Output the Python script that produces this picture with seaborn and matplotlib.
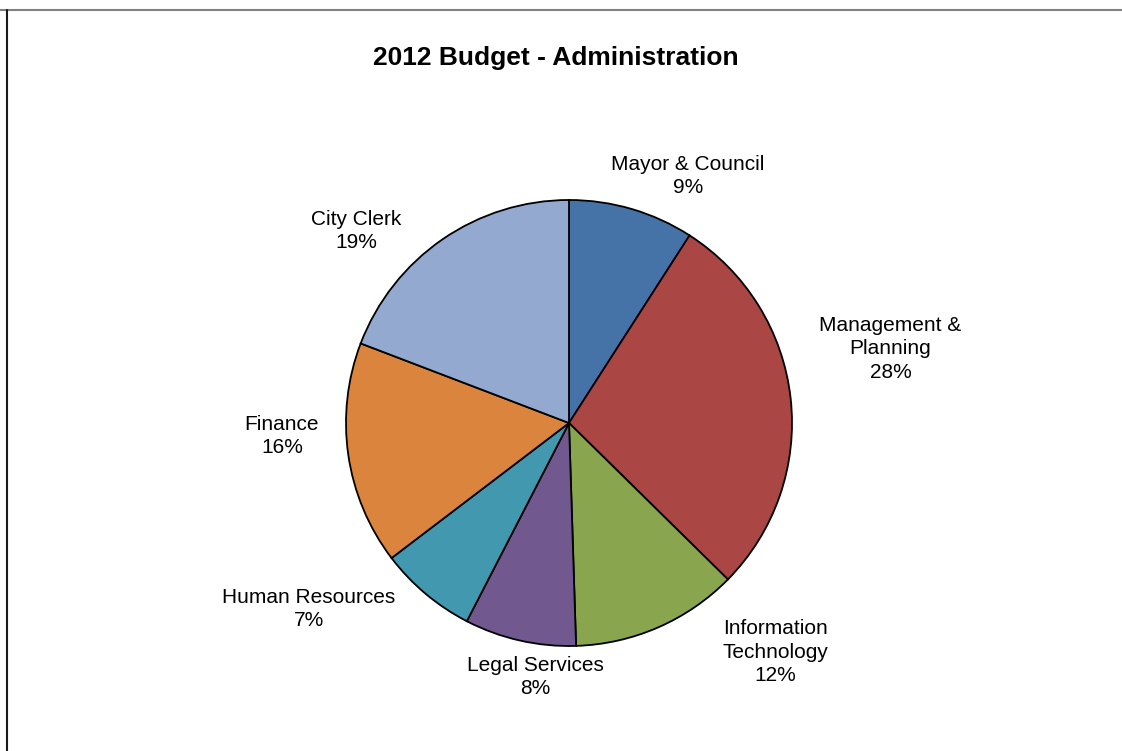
import matplotlib
matplotlib.use("Agg")
import matplotlib.pyplot as plt
from matplotlib.lines import Line2D
import seaborn as sns

# Budget shares (percent) by department, clockwise from 12 o'clock
departments = ["Mayor & Council", "Management &\nPlanning", "Information\nTechnology",
               "Legal Services", "Human Resources", "Finance", "City Clerk"]
shares = [9, 28, 12, 8, 7, 16, 19]
slice_colors = ["#4572A7", "#AA4643", "#89A54E", "#71588F", "#4198AF", "#DB843D", "#93A9CF"]

# Label anchor points, in units of the pie radius
label_xy = [(0.534, 1.108), (1.442, 0.332), (0.926, -1.027), (-0.152, -1.139),
            (-1.166, -0.836), (-1.287, -0.058), (-0.955, 0.861)]

sns.set_theme(style="white")
plt.rcParams["font.family"] = ["Liberation Sans", "DejaVu Sans"]

W, H = 1122, 751
cx, cy, R = 569, 423, 223

fig = plt.figure(figsize=(W / 100, H / 100), dpi=100)
fig.patch.set_facecolor("white")
ax = fig.add_axes([0, 0, 1, 1])

palette = sns.color_palette(slice_colors)
ax.pie(shares, colors=palette, startangle=90, counterclock=False,
       wedgeprops=dict(edgecolor="black", linewidth=1.3))

# axes span the whole figure, one data unit = one radius
ax.set_xlim(-cx / R, (W - cx) / R)
ax.set_ylim(-(H - cy) / R, cy / R)
ax.set_aspect("equal", adjustable="box")
ax.axis("off")

for name, val, (lx, ly) in zip(departments, shares, label_xy):
    ax.text(lx, ly, f"{name}\n{val}%", ha="center", va="center",
            fontsize=15, color="black", linespacing=1.27)

fig.text(556 / W, 1 - 58 / H, "2012 Budget - Administration", ha="center",
         va="center", fontsize=19, fontweight="bold", color="black")

# chart frame edges
fig.add_artist(Line2D([0, 1], [1 - 9.5 / H, 1 - 9.5 / H], transform=fig.transFigure,
                      color="#808080", linewidth=1.5))
fig.add_artist(Line2D([7 / W, 7 / W], [0, 1 - 9.5 / H], transform=fig.transFigure,
                      color="#1a1a1a", linewidth=1.5))

fig.savefig("out.png", dpi=100, facecolor="white")
